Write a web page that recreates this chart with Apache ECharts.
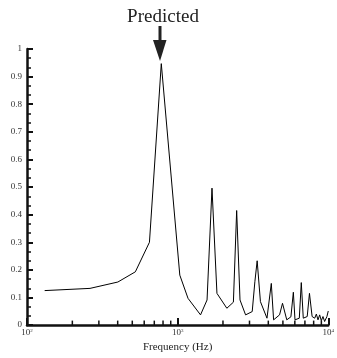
<!DOCTYPE html>
<html>
<head>
<meta charset="utf-8">
<script src="https://cdn.jsdelivr.net/npm/echarts@6/dist/echarts.min.js"></script>
<style>html,body{margin:0;padding:0;background:#fff;}#c{width:337px;height:358px;}</style>
</head>
<body>
<div id="c"></div>
<script>
const freq = [131, 262, 401, 524, 650, 779, 1034, 1172, 1419, 1568, 1691, 1824, 2122, 2346, 2466, 2595, 2826, 3127, 3257, 3373, 3546, 3919, 4187, 4337, 4750, 4970, 5305, 5650, 5865, 6014, 6425, 6622, 6827, 7249, 7504, 7815, 8131, 8337, 8551, 8770, 8994, 9226, 9462, 9797, 10000];
const amp  = [0.125, 0.133, 0.156, 0.193, 0.30, 0.947, 0.181, 0.097, 0.037, 0.091, 0.496, 0.115, 0.061, 0.083, 0.415, 0.091, 0.037, 0.049, 0.157, 0.233, 0.085, 0.025, 0.151, 0.019, 0.037, 0.079, 0.019, 0.03, 0.119, 0.019, 0.025, 0.154, 0.025, 0.031, 0.115, 0.031, 0.025, 0.04, 0.019, 0.037, 0.016, 0.031, 0.013, 0.031, 0.051];
const minorXTicks = [200, 300, 400, 500, 600, 700, 800, 900, 2000, 3000, 4000, 5000, 6000, 7000, 8000, 9000];
const titleText = 'Predicted';
const xName = 'Frequency (Hz)';

const SERIF = 'Liberation Serif, DejaVu Serif, serif';
const chart = echarts.init(document.getElementById('c'), null, {renderer: 'canvas'});
const sup = {'2':'2','3':'3','4':'4'};
chart.setOption({
  animation: false,
  backgroundColor: '#fff',
  title: {
    text: titleText, left: 158, top: 3, textAlign: 'center',
    textStyle: {fontFamily: SERIF, fontSize: 19, fontWeight: 'normal', color: '#222'}
  },
  graphic: [
    {type: 'rect', shape: {x: 158.5, y: 26, width: 3, height: 18}, style: {fill: '#222'}},
    {type: 'polygon', shape: {points: [[153, 40], [166.5, 40], [160, 61]]}, style: {fill: '#222'}}
  ],
  grid: {left: 27, right: 5, top: 49, bottom: 31, containLabel: false},
  xAxis: {
    type: 'log', logBase: 10, min: 100, max: 10000,
    name: xName, nameLocation: 'middle', nameGap: 15,
    nameTextStyle: {fontFamily: SERIF, fontSize: 11, color: '#222'},
    axisLine: {lineStyle: {color: '#111', width: 2.5}},
    axisTick: {inside: true, length: 7, lineStyle: {color: '#111', width: 2}},
    splitLine: {show: false},
    axisLabel: {
      margin: 3,
      fontFamily: SERIF, fontSize: 9, color: '#333',
      formatter: v => '10{s|' + Math.round(Math.log10(v)) + '}',
      rich: {s: {fontFamily: SERIF, fontSize: 5, color: '#333', verticalAlign: 'top', lineHeight: 7}}
    }
  },
  yAxis: {
    type: 'value', min: 0, max: 1, interval: 0.1,
    axisLine: {show: true, lineStyle: {color: '#111', width: 2.5}},
    axisTick: {show: true, inside: true, length: 6, lineStyle: {color: '#111', width: 2}},
    minorTick: {show: true, splitNumber: 3, length: 4, lineStyle: {color: '#111', width: 1.5}},
    splitLine: {show: false},
    minorSplitLine: {show: false},
    axisLabel: {
      margin: 5, fontFamily: SERIF, fontSize: 9, color: '#333',
      formatter: v => String(+v.toFixed(1))
    }
  },
  series: [
    {
      type: 'line', data: freq.map((f, i) => [f, amp[i]]),
      showSymbol: false, symbol: 'none',
      lineStyle: {color: '#000', width: 1}, silent: true
    },
    {
      type: 'custom', silent: true, clip: false,
      data: minorXTicks.map(v => [v, 0]),
      renderItem: (params, api) => {
        const p = api.coord([api.value(0), 0]);
        return {type: 'line', shape: {x1: p[0], y1: p[1], x2: p[0], y2: p[1] - 4.5},
          style: {stroke: '#111', lineWidth: 1.5}};
      }
    }
  ]
});
</script>
</body>
</html>
